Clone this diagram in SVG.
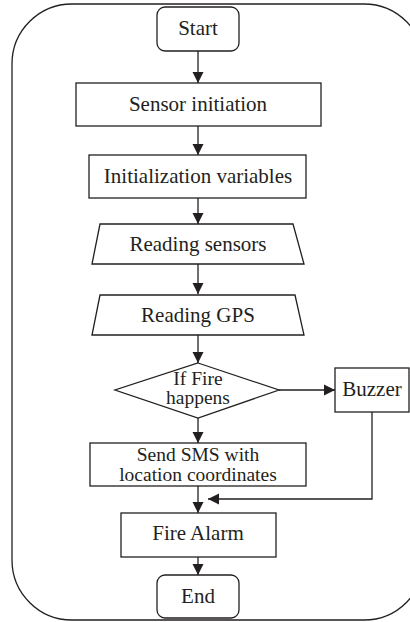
<svg xmlns="http://www.w3.org/2000/svg" width="410" height="622" viewBox="0 0 410 622">
  <style>
    .shape { fill: #ffffff; stroke: #231f20; stroke-width: 1.3; }
    .frame { fill: none; stroke: #231f20; stroke-width: 1.3; }
    .link { fill: none; stroke: #231f20; stroke-width: 1.3; }
    text { font-family: "Liberation Serif", "Times New Roman", serif; font-size: 21px; fill: #231f20; text-anchor: middle; }
    text.two { font-size: 19.5px; }
  </style>
  <defs>
    <marker id="arrow" markerWidth="12" markerHeight="12" refX="11" refY="6" orient="auto" markerUnits="userSpaceOnUse">
      <path d="M0,0.5 L11,6 L0,11.5 Z" fill="#231f20"/>
    </marker>
  </defs>
  <rect width="410" height="622" fill="#ffffff"/>

  <!-- outer boundary -->
  <rect class="frame" x="12" y="4" width="412" height="616" rx="60" ry="60"/>

  <g id="connectors">
    <line class="link" x1="198" y1="51" x2="198" y2="83" marker-end="url(#arrow)"/>
    <line class="link" x1="198" y1="126" x2="198" y2="155" marker-end="url(#arrow)"/>
    <line class="link" x1="198" y1="198" x2="198" y2="224" marker-end="url(#arrow)"/>
    <line class="link" x1="198" y1="264" x2="198" y2="294" marker-end="url(#arrow)"/>
    <line class="link" x1="198" y1="335" x2="198" y2="363" marker-end="url(#arrow)"/>
    <line class="link" x1="279" y1="390" x2="335" y2="390" marker-end="url(#arrow)"/>
    <line class="link" x1="198" y1="418" x2="198" y2="443" marker-end="url(#arrow)"/>
    <line class="link" x1="198" y1="486" x2="198" y2="513" marker-end="url(#arrow)"/>
    <polyline class="link" points="372,412 372,499 208,499" marker-end="url(#arrow)"/>
    <line class="link" x1="198" y1="557" x2="198" y2="575" marker-end="url(#arrow)"/>
  </g>

  <g id="start">
    <rect class="shape" x="157" y="7" width="82" height="44" rx="8" ry="8"/>
    <text x="198" y="35">Start</text>
  </g>

  <g id="sensor-initiation">
    <rect class="shape" x="76" y="83" width="245" height="43"/>
    <text x="198" y="111">Sensor initiation</text>
  </g>

  <g id="initialization-variables">
    <rect class="shape" x="89" y="155" width="217" height="43"/>
    <text x="198" y="183">Initialization variables</text>
  </g>

  <g id="reading-sensors">
    <polygon class="shape" points="100,224 293,224 304,264 92,264"/>
    <text x="198" y="251">Reading sensors</text>
  </g>

  <g id="reading-gps">
    <polygon class="shape" points="100,295 295,295 304,335 92,335"/>
    <text x="198" y="322">Reading GPS</text>
  </g>

  <g id="if-fire">
    <polygon class="shape" points="198,363 279,390 198,418 115,390"/>
    <text class="two" x="198" y="385">If Fire</text>
    <text class="two" x="198" y="404">happens</text>
  </g>

  <g id="buzzer">
    <rect class="shape" x="335" y="368" width="74" height="44"/>
    <text x="372" y="396">Buzzer</text>
  </g>

  <g id="send-sms">
    <rect class="shape" x="90" y="443" width="216" height="43"/>
    <text class="two" x="198" y="461">Send SMS with</text>
    <text class="two" x="198" y="481">location coordinates</text>
  </g>

  <g id="fire-alarm">
    <rect class="shape" x="121" y="513" width="155" height="44"/>
    <text x="198" y="540">Fire Alarm</text>
  </g>

  <g id="end">
    <rect class="shape" x="157" y="575" width="82" height="43" rx="8" ry="8"/>
    <text x="198" y="603">End</text>
  </g>
</svg>
